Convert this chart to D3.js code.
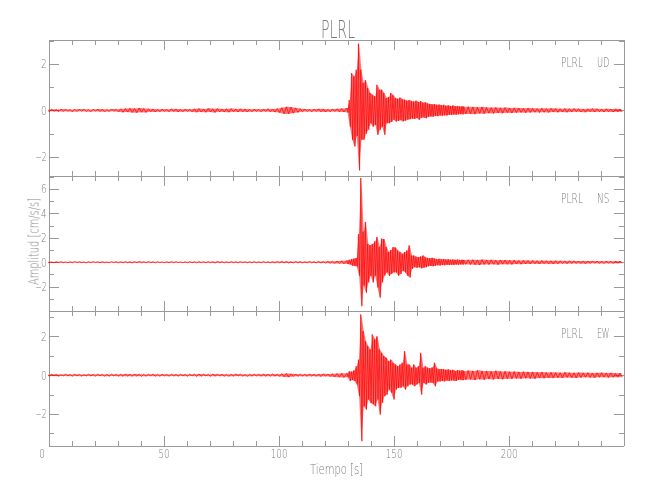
<!DOCTYPE html>
<html><head><meta charset="utf-8">
<script src="https://cdn.jsdelivr.net/npm/d3@7"></script>
<style>
body{margin:0;background:#fff}
text{font-family:"DejaVu Sans","Liberation Sans",sans-serif;font-weight:200;fill:#7a7a7a}
</style>
</head><body>
<svg id="c" width="650" height="500"></svg>
<script>
// ---------------- DATA ----------------
const station = "PLRL";
const components = ["UD", "NS", "EW"];
const xLabel = "Tiempo [s]";
const yLabel = "Amplitud [cm/s/s]";
const xDomain = [0, 249.9];
const xMajorTicks = [0, 50, 100, 150, 200];
const xMinorTicks = [10,20,30,40,60,70,80,90,110,120,130,140,160,170,180,190,210,220,230,240];
const yDomains = [[-2.8, 3.05], [-3.95, 7.1], [-3.62, 3.33]];
const yMajorTicks = [[-2, 0, 2], [-2, 0, 2, 4, 6], [-2, 0, 2]];
const yMinorTicks = [[-1, 1, 3], [-3, -1, 1, 3, 5, 7], [-3, -1, 1, 3]];

// sample times (s) of the envelope values
const times = [0,2,4,6,8,10,12,14,16,18,20,22,24,26,28,30,32,34,36,38,40,42,44,46,48,50,52,54,56,58,60,62,
64,66,68,70,72,74,76,78,80,82,84,86,88,90,92,94,96,98,100,102,104,106,108,110,112,114,116,118,120,122,124,126,128,
130,131,132,133,134,135,136,137,138,139,140,141,142,143,144,145,146,147,148,149,150,151,152,153,154,155,156,157,158,159,160,
161,162,163,164,165,166,167,168,169,170,171,172,173,174,175,176,177,178,179,180,181,
183,185,187,189,191,193,195,197,199,201,203,205,207,209,211,213,215,217,219,221,223,225,227,229,231,233,235,237,239,241,243,245,247,249];

// UD component: upper / lower envelope (cm/s/s)
const udMax = [0.04,0.05,0.04,0.06,0.05,0.04,0.05,0.06,0.05,0.04,0.05,0.06,0.05,0.04,0.06,0.05,
0.07,0.08,0.09,0.08,0.10,0.08,0.07,0.06,
0.05,0.06,0.05,0.07,0.06,0.05,0.06,0.05,
0.07,0.08,0.06,0.09,0.07,0.08,0.06,0.07,0.08,0.06,0.07,0.06,0.05,0.06,
0.05,0.06,0.07,0.06,0.08,
0.12,0.16,0.14,0.10,0.07,
0.06,0.05,0.06,0.07,0.06,0.05,0.06,0.07,0.08,
0.10,0.45,1.60,1.46,1.75,2.87,1.75,1.18,1.30,0.96,0.75,0.67,0.60,1.10,0.89,0.89,0.75,0.53,0.58,0.75,0.65,0.53,0.50,0.55,0.48,0.46,
0.42,0.45,0.40,0.38,0.42,0.36,0.39,0.33,0.35,0.30,0.28,0.26,0.27,0.24,0.25,0.22,0.24,0.20,0.22,0.19,0.21,0.18,0.19,0.17,0.18,0.16,
0.16,0.15,0.14,0.15,0.13,0.12,0.13,0.11,0.12,0.10,0.11,0.10,0.09,0.10,0.09,0.08,0.09,0.08,0.09,0.08,0.07,0.08,0.07,0.08,0.07,0.06,0.07,0.08,0.07,0.06,0.07,0.06,0.07,0.06];
const udMin = [-0.05,-0.04,-0.05,-0.05,-0.04,-0.06,-0.05,-0.04,-0.05,-0.06,-0.04,-0.05,-0.06,-0.05,-0.04,-0.06,
-0.08,-0.07,-0.09,-0.10,-0.08,-0.09,-0.06,-0.07,
-0.06,-0.05,-0.06,-0.05,-0.07,-0.06,-0.05,-0.06,
-0.08,-0.07,-0.08,-0.07,-0.09,-0.06,-0.07,-0.08,-0.06,-0.07,-0.06,-0.07,-0.06,-0.05,
-0.06,-0.05,-0.06,-0.07,-0.09,
-0.14,-0.15,-0.12,-0.09,-0.06,
-0.05,-0.06,-0.05,-0.06,-0.07,-0.06,-0.05,-0.06,-0.07,
-0.09,-0.70,-1.26,-1.55,-1.10,-2.58,-1.26,-1.26,-1.00,-0.83,-0.55,-0.70,-0.62,-1.05,-0.83,-0.70,-1.05,-0.55,-0.55,-0.50,-0.40,-0.48,-0.45,-0.42,-0.47,-0.44,
-0.40,-0.38,-0.35,-0.37,-0.33,-0.40,-0.32,-0.30,-0.34,-0.28,-0.26,-0.27,-0.24,-0.25,-0.22,-0.23,-0.21,-0.22,-0.19,-0.20,-0.18,-0.19,-0.17,-0.16,-0.17,-0.15,
-0.15,-0.16,-0.13,-0.14,-0.12,-0.13,-0.11,-0.12,-0.10,-0.11,-0.10,-0.09,-0.10,-0.09,-0.08,-0.09,-0.08,-0.09,-0.07,-0.08,-0.07,-0.08,-0.07,-0.06,-0.07,-0.08,-0.06,-0.07,-0.06,-0.07,-0.06,-0.07,-0.06,-0.07];

// NS component
const nsMax = [0.04,0.03,0.05,0.04,0.03,0.04,0.05,0.04,0.03,0.04,0.05,0.04,0.04,0.03,0.05,0.04,
0.04,0.05,0.04,0.05,0.06,0.04,0.05,0.04,
0.04,0.03,0.04,0.05,0.04,0.03,0.04,0.05,
0.04,0.05,0.04,0.05,0.04,0.06,0.05,0.04,0.05,0.04,0.05,0.04,0.04,0.05,
0.04,0.05,0.04,0.05,0.06,
0.07,0.06,0.05,0.06,0.05,
0.05,0.06,0.05,0.07,0.06,0.08,0.09,0.10,0.12,
0.15,0.20,0.25,0.30,0.35,2.30,6.90,2.50,3.30,1.50,1.40,1.50,1.70,2.07,1.24,1.93,1.90,1.24,0.83,1.00,1.24,1.20,0.96,0.83,0.69,0.83,
0.96,1.38,0.55,0.55,0.45,0.41,0.47,0.55,0.41,0.35,0.33,0.36,0.30,0.25,0.28,0.24,0.26,0.22,0.25,0.21,0.23,0.20,0.22,0.19,0.20,0.18,
0.20,0.21,0.19,0.22,0.18,0.20,0.17,0.19,0.18,0.16,0.17,0.15,0.16,0.14,0.15,0.13,0.14,0.13,0.12,0.13,0.12,0.11,0.12,0.11,0.10,0.11,0.10,0.11,0.10,0.09,0.10,0.09,0.10,0.09];
const nsMin = [-0.04,-0.05,-0.03,-0.04,-0.05,-0.04,-0.03,-0.04,-0.05,-0.04,-0.03,-0.05,-0.04,-0.04,-0.03,-0.05,
-0.05,-0.04,-0.06,-0.04,-0.05,-0.05,-0.04,-0.05,
-0.03,-0.04,-0.05,-0.04,-0.03,-0.04,-0.05,-0.04,
-0.05,-0.04,-0.05,-0.04,-0.06,-0.04,-0.05,-0.05,-0.04,-0.05,-0.04,-0.05,-0.05,-0.04,
-0.05,-0.04,-0.05,-0.06,-0.05,
-0.06,-0.07,-0.06,-0.05,-0.06,
-0.06,-0.05,-0.06,-0.06,-0.07,-0.08,-0.10,-0.11,-0.13,
-0.15,-0.18,-0.28,-0.30,-0.35,-1.10,-3.60,-1.90,-2.50,-1.65,-1.10,-1.65,-1.10,-2.07,-2.90,-1.65,-1.10,-0.83,-1.10,-0.96,-0.83,-0.83,-1.10,-0.96,-0.69,-0.83,
-1.10,-1.24,-0.55,-0.41,-0.45,-0.41,-0.50,-0.45,-0.41,-0.33,-0.30,-0.33,-0.28,-0.25,-0.27,-0.23,-0.25,-0.21,-0.23,-0.20,-0.22,-0.19,-0.21,-0.18,-0.19,-0.17,
-0.19,-0.20,-0.22,-0.18,-0.19,-0.17,-0.20,-0.16,-0.17,-0.18,-0.15,-0.16,-0.14,-0.15,-0.13,-0.14,-0.12,-0.13,-0.14,-0.12,-0.11,-0.12,-0.11,-0.10,-0.11,-0.12,-0.10,-0.09,-0.10,-0.11,-0.09,-0.10,-0.09,-0.08];

// EW component
const ewMax = [0.04,0.05,0.04,0.03,0.05,0.04,0.05,0.04,0.03,0.05,0.04,0.05,0.04,0.04,0.05,0.04,
0.05,0.06,0.05,0.06,0.05,0.04,0.05,0.05,
0.04,0.05,0.04,0.05,0.04,0.05,0.04,0.05,
0.05,0.06,0.05,0.04,0.06,0.05,0.05,0.04,0.05,0.06,0.05,0.04,0.05,0.05,
0.05,0.06,0.05,0.06,0.05,
0.08,0.09,0.07,0.06,0.05,
0.05,0.06,0.05,0.06,0.07,0.06,0.08,0.09,0.10,
0.10,0.20,0.18,0.25,0.46,0.80,3.13,2.27,1.75,1.50,1.32,2.10,1.84,2.00,1.32,1.15,0.98,0.90,0.72,0.80,0.64,0.55,0.46,0.55,0.64,1.24,
0.55,0.55,0.38,0.55,0.38,0.46,1.15,0.38,0.46,0.38,0.36,0.40,0.64,0.35,0.30,0.32,0.30,0.28,0.30,0.26,0.28,0.22,0.26,0.24,0.25,0.22,
0.24,0.22,0.25,0.21,0.22,0.20,0.23,0.19,0.20,0.18,0.19,0.17,0.18,0.16,0.17,0.15,0.16,0.14,0.15,0.14,0.13,0.15,0.13,0.12,0.14,0.12,0.13,0.11,0.12,0.13,0.11,0.12,0.10,0.11];
const ewMin = [-0.05,-0.04,-0.05,-0.04,-0.04,-0.05,-0.04,-0.05,-0.04,-0.04,-0.05,-0.04,-0.05,-0.05,-0.04,-0.05,
-0.06,-0.05,-0.06,-0.05,-0.06,-0.05,-0.04,-0.05,
-0.05,-0.04,-0.05,-0.04,-0.05,-0.04,-0.05,-0.04,
-0.06,-0.05,-0.04,-0.06,-0.05,-0.04,-0.05,-0.06,-0.05,-0.04,-0.05,-0.06,-0.05,-0.04,
-0.05,-0.06,-0.05,-0.05,-0.06,
-0.08,-0.10,-0.07,-0.06,-0.05,
-0.06,-0.05,-0.06,-0.07,-0.06,-0.07,-0.09,-0.10,-0.12,
-0.10,-0.30,-0.25,-0.30,-0.48,-1.08,-3.40,-1.60,-1.77,-1.25,-1.43,-1.50,-1.60,-1.25,-2.03,-1.43,-1.08,-1.00,-0.74,-0.90,-1.25,-0.74,-0.65,-0.65,-0.57,-0.74,
-0.57,-0.48,-0.48,-0.57,-0.48,-0.40,-1.00,-0.40,-0.48,-0.40,-0.38,-0.40,-0.57,-0.33,-0.32,-0.30,-0.32,-0.28,-0.30,-0.27,-0.28,-0.30,-0.25,-0.24,-0.26,-0.23,
-0.22,-0.25,-0.21,-0.23,-0.20,-0.22,-0.19,-0.21,-0.18,-0.19,-0.17,-0.18,-0.16,-0.17,-0.18,-0.15,-0.16,-0.14,-0.15,-0.13,-0.14,-0.12,-0.13,-0.14,-0.12,-0.11,-0.12,-0.13,-0.11,-0.10,-0.12,-0.11,-0.10,-0.11];

// ---------------- LAYOUT ----------------
const xLeft = 48.5, xRight = 623.5;
const panelTops = [39.5, 175.5, 310.5];
const panelBottoms = [175.5, 310.5, 445.5];
const axisColor = "#9a9a9a";
const textColor = "#7a7a7a";
const traceColor = "#ff0000";

const svg = d3.select("#c");
const textLayer = svg.append("g").attr("opacity", 0.995);
const x = d3.scaleLinear().domain(xDomain).range([xLeft, xRight]);
const seriesList = [
  {name: components[0], max: udMax, min: udMin},
  {name: components[1], max: nsMax, min: nsMin},
  {name: components[2], max: ewMax, min: ewMin}
];

function styleAxis(g) {
  g.attr("font-family", null).attr("font-size", null);
  g.selectAll("path,line").attr("stroke", axisColor).attr("stroke-width", 1).attr("shape-rendering", "crispEdges");
  g.selectAll("text").attr("fill", textColor).style("font-size", "12px")
    .each(function() {
      const t = d3.select(this).text();
      if (t) d3.select(this).attr("textLength", t.length * 5.6).attr("lengthAdjust", "spacingAndGlyphs");
    });
}

seriesList.forEach((s, i) => {
  const y = d3.scaleLinear().domain(yDomains[i]).range([panelBottoms[i], panelTops[i]]);
  const g = svg.append("g").attr("opacity", 0.995);

  // axes: left (labelled), right, top, bottom
  g.append("g").attr("transform", `translate(${xLeft},0)`)
    .call(d3.axisLeft(y).tickValues(yMajorTicks[i]).tickSize(-10).tickSizeOuter(0).tickPadding(2).tickFormat(d3.format("d"))).call(styleAxis);
  g.append("g").attr("transform", `translate(${xLeft},0)`)
    .call(d3.axisLeft(y).tickValues(yMinorTicks[i]).tickSize(-5).tickSizeOuter(0).tickFormat("")).call(styleAxis);
  g.append("g").attr("transform", `translate(${xRight},0)`)
    .call(d3.axisRight(y).tickValues(yMajorTicks[i]).tickSize(-10).tickSizeOuter(0).tickFormat("")).call(styleAxis);
  g.append("g").attr("transform", `translate(${xRight},0)`)
    .call(d3.axisRight(y).tickValues(yMinorTicks[i]).tickSize(-5).tickSizeOuter(0).tickFormat("")).call(styleAxis);
  g.append("g").attr("transform", `translate(0,${panelTops[i]})`)
    .call(d3.axisTop(x).tickValues(xMajorTicks).tickSize(-10).tickSizeOuter(0).tickFormat("")).call(styleAxis);
  g.append("g").attr("transform", `translate(0,${panelTops[i]})`)
    .call(d3.axisTop(x).tickValues(xMinorTicks).tickSize(-5).tickSizeOuter(0).tickFormat("")).call(styleAxis);
  const isLast = i === seriesList.length - 1;
  const bx = g.append("g").attr("transform", `translate(0,${panelBottoms[i]})`)
    .call(d3.axisBottom(x).tickValues(xMajorTicks).tickSize(-10).tickSizeOuter(0).tickPadding(4).tickFormat(isLast ? d3.format("d") : "")).call(styleAxis);
  if (isLast) bx.selectAll(".tick text").filter(d => d === 0).attr("dx", -7);
  g.append("g").attr("transform", `translate(0,${panelBottoms[i]})`)
    .call(d3.axisBottom(x).tickValues(xMinorTicks).tickSize(-5).tickSizeOuter(0).tickFormat("")).call(styleAxis);

  // trace: envelope band + zig-zag between upper and lower envelope
  svg.append("clipPath").attr("id", "clip" + i).append("rect")
    .attr("x", xLeft).attr("y", panelTops[i]).attr("width", xRight - xLeft).attr("height", panelBottoms[i] - panelTops[i]);
  const tg = svg.append("g").attr("clip-path", `url(#clip${i})`);
  const band = times.map((t, j) => [t, s.min[j], s.max[j]]);
  tg.append("path")
    .attr("d", d3.area().x(d => x(d[0])).y0(d => y(d[1])).y1(d => y(d[2]))(band))
    .attr("fill", traceColor).attr("fill-opacity", 0.55).attr("stroke", "none");
  const pts = [];
  times.forEach((t, j) => {
    const dt = j < times.length - 1 ? times[j + 1] - t : t - times[j - 1];
    pts.push([t - 0.3 * dt, s.max[j]]);
    pts.push([t + 0.2 * dt, s.min[j]]);
  });
  tg.append("path")
    .attr("d", d3.line().x(d => x(d[0])).y(d => y(d[1]))(pts))
    .attr("fill", "none").attr("stroke", traceColor).attr("stroke-width", 0.7);

  // panel label
  const ly = panelTops[i] + 27;
  textLayer.append("text").attr("x", 561).attr("y", ly).text(station)
    .style("font-size", "14px").attr("textLength", 22).attr("lengthAdjust", "spacingAndGlyphs");
  textLayer.append("text").attr("x", 597).attr("y", ly).text(s.name)
    .style("font-size", "14px").attr("textLength", 12.5).attr("lengthAdjust", "spacingAndGlyphs");
});

// title
textLayer.append("text").attr("x", 321).attr("y", 37.5).text(station)
  .style("font-size", "25px").attr("textLength", 34).attr("lengthAdjust", "spacingAndGlyphs");
// x label
textLayer.append("text").attr("x", 310).attr("y", 474).text(xLabel)
  .style("font-size", "14px").attr("textLength", 53).attr("lengthAdjust", "spacingAndGlyphs");
// y label
textLayer.append("text").attr("transform", "translate(38.5,285) rotate(-90)").text(yLabel)
  .style("font-size", "14px").attr("textLength", 87).attr("lengthAdjust", "spacingAndGlyphs");
</script>
</body></html>
